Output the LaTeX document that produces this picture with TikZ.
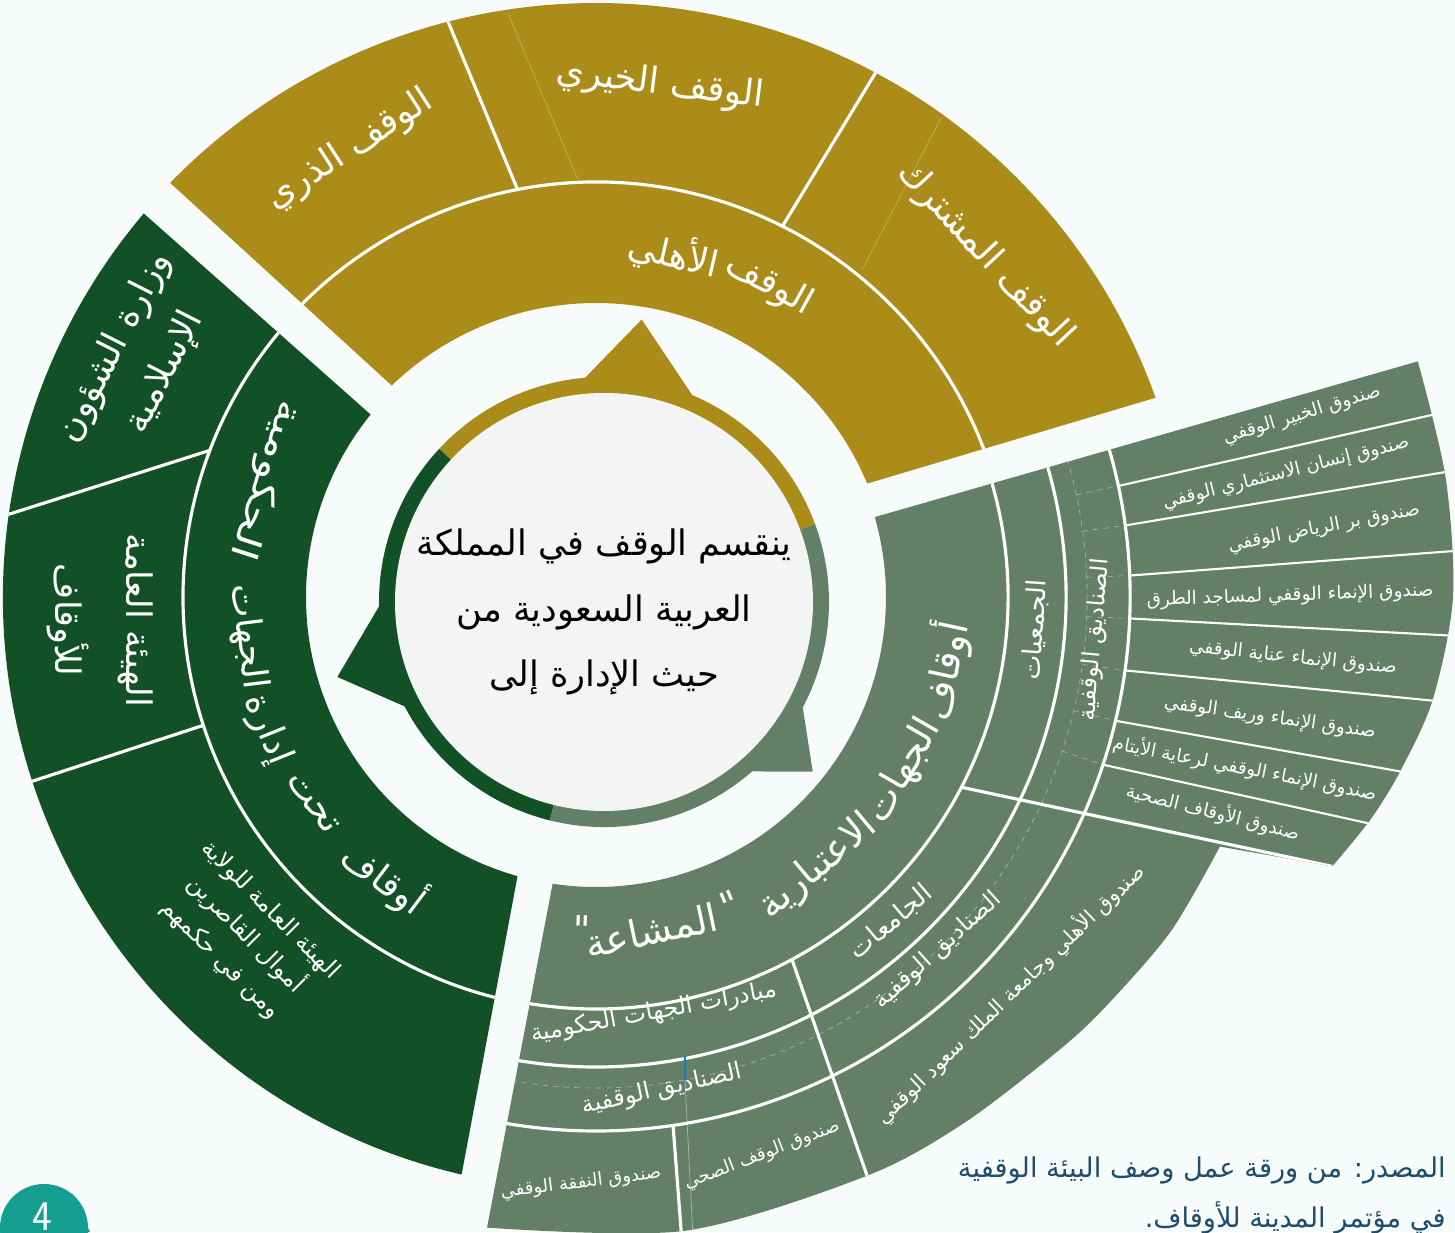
\documentclass[tikz,border=0pt]{standalone}
\usepackage{fontspec}
\usepackage{xcolor}
\usepackage{tikz}
\usetikzlibrary{calc}

\newfontfamily\arabicfont[Script=Arabic]{DejaVu Sans}
\TeXXeTstate=1
\newcommand{\artext}[1]{\beginR #1\endR}

\definecolor{cGold}{RGB}{171,140,25}
\definecolor{cDarkGreen}{RGB}{18,80,38}
\definecolor{cSage}{RGB}{99,128,102}
\definecolor{cDisk}{RGB}{243,245,244}
\definecolor{cBack}{RGB}{248,251,252}
\definecolor{cTeal}{RGB}{19,158,145}
\definecolor{cSource}{RGB}{30,78,110}

\tikzstyle{tsLabel} = [ 
    text=white, 
    font=\arabicfont\fontsize{20.5}{32}\selectfont,
    align=center,
    inner sep=0pt
]
\tikzstyle{tsLevelOne} = [ 
    tsLabel, 
    font=\arabicfont\fontsize{22}{32}\selectfont
]
\tikzstyle{tsLevelTwo} = [ 
    tsLabel, 
    font=\arabicfont\fontsize{15}{24}\selectfont
]
\tikzstyle{tsLevelThree} = [ 
    tsLabel, 
    font=\arabicfont\fontsize{13.5}{20}\selectfont
]
\tikzstyle{tsFundLarge} = [ 
    tsLabel, 
    font=\arabicfont\fontsize{11.8}{16}\selectfont
]
\tikzstyle{tsFundMid} = [ 
    tsLabel, 
    font=\arabicfont\fontsize{10.3}{16}\selectfont
]
\tikzstyle{tsFund} = [ 
    tsLabel, 
    font=\arabicfont\fontsize{10.5}{14}\selectfont
]
\tikzstyle{tsDivider} = [ 
    draw=white,
    line width=1.8pt
]
\tikzstyle{tsThinDivider} = [ 
    draw=white,
    line width=1.2pt
]
\tikzstyle{tsFaint} = [ 
    draw=white,
    draw opacity=0.45,
    line width=0.35pt,
    dashed
]

\begin{document}
\begin{tikzpicture}[x=0.02cm, y=0.02cm]

        \fill[cBack] (-596,-635) rectangle (859,597);
        \useasboundingbox (-596,-635) rectangle (859,597);

        % gold sector
        \fill[cGold] (22.7:294) arc[start angle=22.7, end angle=134, radius=294]
            -- (135.8:594) arc[start angle=135.8, end angle=19.6, radius=594] -- cycle;
        \begin{scope}
            \clip (22.7:294) arc[start angle=22.7, end angle=134, radius=294]
                -- (135.8:594) arc[start angle=135.8, end angle=19.6, radius=594] -- cycle;
            \draw[tsDivider] (10:415) arc[start angle=10, end angle=150, radius=415];
            \draw[tsDivider] (100.9:415) -- (104.5:600);
            \draw[tsDivider] (63.3:415) -- (61.9:600);
            \draw[cGold!70!white, line width=0.4pt] (-18,417) -- (-88,584);
            \draw[cGold!70!white, line width=0.4pt] (266,327) -- (345,479);
        \end{scope}

        % dark green sector
        \fill[cDarkGreen] (141:290) arc[start angle=141, end angle=254.3, radius=290]
            -- (256.9:593) arc[start angle=256.9, end angle=139.7, radius=593] -- cycle;
        \begin{scope}
            \clip (141:290) arc[start angle=141, end angle=254.3, radius=290]
                -- (256.9:593) arc[start angle=256.9, end angle=139.7, radius=593] -- cycle;
            \draw[tsDivider] (130:413) arc[start angle=130, end angle=265, radius=413];
            \draw[tsDivider] (159.2:413) -- (172.3:600);
            \draw[tsDivider] (198.1:413) -- (198.1:600);
        \end{scope}

        % sage sector
        \fill[cSage] (-98.6:290) -- (-99.8:640)
            -- plot[smooth] coordinates {(-99.8:640) (-82:640) (-65:639) (-55:642) (-44.3:648)
                (-38.7:654) (-30.2:665) (-21.8:672)}
            -- (-20.1:784)
            -- plot[smooth] coordinates {(-20.1:784) (-16:806) (-12.2:823) (-7:843) (0:857) (8:858) (16:855)}
            -- (16:290) arc[start angle=16, end angle=-98.6, radius=290] -- cycle;
        \begin{scope}
            \clip (-98.6:290) -- (-99.8:640)
                -- plot[smooth] coordinates {(-99.8:640) (-82:640) (-65:639) (-55:642) (-44.3:648)
                    (-38.7:654) (-30.2:665) (-21.8:672)}
                -- (-20.1:784)
                -- plot[smooth] coordinates {(-20.1:784) (-16:806) (-12.2:823) (-7:843) (0:857) (8:858) (16:855)}
                -- (16:290) arc[start angle=16, end angle=-98.6, radius=290] -- cycle;
            \draw[tsFaint] (20:491) arc[start angle=20, end angle=-105, radius=491];
            \draw[tsFaint] (12:491) -- (12:534);
            \draw[tsFaint] (7.7:491) -- (7.7:534);
            \draw[tsFaint] (2.3:491) -- (2.3:534);
            \draw[tsFaint] (-2.3:491) -- (-2.3:534);
            \draw[tsFaint] (-7.9:491) -- (-7.9:534);
            \draw[tsFaint] (-13.4:491) -- (-13.4:534);
            \draw[tsFaint] (-18.3:491) -- (-18.3:534);
            \draw[tsDivider] (20:412) arc[start angle=20, end angle=-105, radius=412];
            \draw[tsDivider] (20:470) arc[start angle=20, end angle=-105, radius=470];
            \draw[tsDivider] (20:534) arc[start angle=20, end angle=-105, radius=534];
            \draw[tsDivider] (-27.5:412) -- (-20.1:784);
            \draw[tsDivider] (-61.6:412) -- (-65:650);
            \draw[tsDivider] (-81.7:534) -- (-82.4:650);
            \draw[tsThinDivider] (12.0:534) -- (12.3:880);
            \draw[tsThinDivider] (7.7:534) -- (8.4:880);
            \draw[tsThinDivider] (2.3:534) -- (3.1:880);
            \draw[tsThinDivider] (-2.3:534) -- (-2.6:880);
            \draw[tsThinDivider] (-7.9:534) -- (-7.0:880);
            \draw[tsThinDivider] (-13.4:534) -- (-12.1:880);
            \draw[tsThinDivider] (-18.3:534) -- (-16.0:880);
            \draw[white, draw opacity=0.5, line width=0.35pt] (89,-483) -- (97,-640);
            \draw[cyan!60!blue, line width=0.6pt] (89,-458) -- (89,-483);
        \end{scope}

        % centre
        \begin{scope}[shift={(8,-5)}]
            \fill[cGold] (64:218) -- (82.4:285) -- (97:218) -- cycle;
            \fill[cDarkGreen] (178:218) -- (195.7:277) -- (210:218) -- cycle;
            \fill[cSage] (-25.4:218) -- (-39.1:269) -- (-51:218) -- cycle;
            \fill[cGold] (0,0) -- (20.3:225) arc[start angle=20.3, end angle=137.1, radius=225] -- cycle;
            \fill[cDarkGreen] (0,0) -- (137.1:225) arc[start angle=137.1, end angle=256.1, radius=225] -- cycle;
            \fill[cSage] (0,0) -- (256.1:225) arc[start angle=256.1, end angle=380.3, radius=225] -- cycle;
            \fill[cDisk] (0,0) circle[radius=209];
            \node[tsLabel, text=black, font=\arabicfont\fontsize{20}{37.5}\selectfont] (title) at (0,-10)
                {\artext{ينقسم الوقف في المملكة}\\\artext{العربية السعودية من}\\\artext{حيث الإدارة إلى}};
        \end{scope}

        \node[tsLabel, rotate=-29] (ahliA) at (61:357) {\artext{الوقف}};
        \node[tsLabel, rotate=-13] (ahliB) at (77.2:351) {\artext{الأهلي}};
        \node[tsLabel, rotate=33] (thurri) at (-246,447) {\artext{الوقف الذري}};
        \node[tsLabel, rotate=-7] (khairi) at (64,512) {\artext{الوقف الخيري}};
        \node[tsLabel, rotate=-47] (mushtarak) at (389,342) {\artext{الوقف المشترك}};

        \node[tsLevelOne, rotate=-37, font=\arabicfont\fontsize{20.5}{32}\selectfont] (hukumaA) at (233:352) {\artext{أوقاف}};
        \node[tsLevelOne, rotate=-54, font=\arabicfont\fontsize{20.5}{32}\selectfont] (hukumaB) at (216:350) {\artext{تحت}};
        \node[tsLevelOne, rotate=-68, font=\arabicfont\fontsize{20.5}{32}\selectfont] (hukumaC) at (202:355) {\artext{إدارة}};
        \node[tsLevelOne, rotate=-83, font=\arabicfont\fontsize{20.5}{32}\selectfont] (hukumaD) at (186.5:351) {\artext{الجهات}};
        \node[tsLevelOne, rotate=-108, xscale=1.25, font=\arabicfont\fontsize{20.5}{32}\selectfont] (hukumaE) at (160.5:351) {\artext{الحكومية}};

        \node[tsLabel, rotate=63] (wizara) at (-456,237) {\artext{وزارة الشؤون}\\\artext{الإسلامية}};
        \node[tsLabel, rotate=-90, font=\arabicfont\fontsize{20}{40}\selectfont] (hayaa) at (-496,-23)
            {\artext{الهيئة العامة}\\\artext{للأوقاف}};
        \node[tsFundLarge, rotate=-45, font=\arabicfont\fontsize{13.5}{20}\selectfont] (wilaya) at (-351,-338)
            {\artext{الهيئة العامة للولاية}\\\artext{أموال القاصرين}\\\artext{ومن في حكمهم}};

        \node[tsLevelOne, rotate=78] (itibariA) at (-12:356) {\artext{أوقاف}};
        \node[tsLevelOne, rotate=60] (itibariB) at (-29.5:354) {\artext{الجهات}};
        \node[tsLevelOne, rotate=40] (itibariC) at (-50.5:350) {\artext{الاعتبارية}};
        \node[tsLevelOne, rotate=23] (quoteA) at (-66.5:336) {"};
        \node[tsLevelOne, rotate=12] (itibariD) at (-80.6:338) {\artext{المشاعة}};
        \node[tsLevelOne, rotate=-2] (quoteB) at (-92.4:333) {"};

        \node[tsLevelTwo, rotate=86] (jamiyat) at (-4.3:440) {\artext{الجمعيات}};
        \node[tsLevelThree, rotate=85] (sanadiqA) at (-4.9:501) {\artext{الصناديق الوقفية}};
        \node[tsLevelTwo, rotate=40] (jamiat) at (295,-325) {\artext{الجامعات}};
        \node[tsLevelThree, rotate=42] (sanadiqB) at (342,-354) {\artext{الصناديق الوقفية}};
        \node[tsFundLarge, rotate=44] (ahliFund) at (414,-397) {\artext{صندوق الأهلي وجامعة الملك سعود الوقفي}};
        \node[tsLevelThree, rotate=10.5] (mubadarat) at (58,-416) {\artext{مبادرات الجهات الحكومية}};
        \node[tsLevelThree, rotate=12.5] (sanadiqC) at (66,-493) {\artext{الصناديق الوقفية}};
        \node[tsFundMid, rotate=21] (sihhi) at (166,-558) {\artext{صندوق الوقف الصحي}};
        \node[tsFundMid, rotate=7] (nafaqa) at (-15,-586) {\artext{صندوق النفقة الوقفي}};

        \node[tsFund, rotate=17] (fundA) at (706,182) {\artext{صندوق الخبير الوقفي}};
        \node[tsFund, rotate=14] (fundB) at (690,124) {\artext{صندوق إنسان الاستثماري الوقفي}};
        \node[tsFund, rotate=11] (fundC) at (728,69) {\artext{صندوق بر الرياض الوقفي}};
        \node[tsFund, rotate=2] (fundD) at (694,1) {\artext{صندوق الإنماء الوقفي لمساجد الطرق}};
        \node[tsFund, rotate=-6] (fundE) at (697,-61) {\artext{صندوق الإنماء عناية الوقفي}};
        \node[tsFund, rotate=-8] (fundF) at (674,-121) {\artext{صندوق الإنماء وريف الوقفي}};
        \node[tsFund, rotate=-11] (fundG) at (649,-171) {\artext{صندوق الإنماء الوقفي لرعاية الأيتام}};
        \node[tsFund, rotate=-14] (fundH) at (617,-215) {\artext{صندوق الأوقاف الصحية}};

        \node[tsLabel, text=cSource, anchor=east, font=\arabicfont\fontsize{15.5}{20}\selectfont] (sourceA) at (850,-573)
            {\artext{المصدر: من ورقة عمل وصف البيئة الوقفية}};
        \node[tsLabel, text=cSource, anchor=east, font=\arabicfont\fontsize{15.5}{20}\selectfont] (sourceB) at (850,-621)
            {\artext{في مؤتمر المدينة للأوقاف.}};

        \fill[cTeal] (-552,-631) circle[radius=44];
        \fill[cTeal] (-552,-635) -- (-524,-596) -- (-506,-635) -- cycle;
        \node[text=white, font=\sffamily\fontsize{24}{24}\selectfont] (pagenum) at (-554,-620) {4};

\end{tikzpicture}
\end{document}
